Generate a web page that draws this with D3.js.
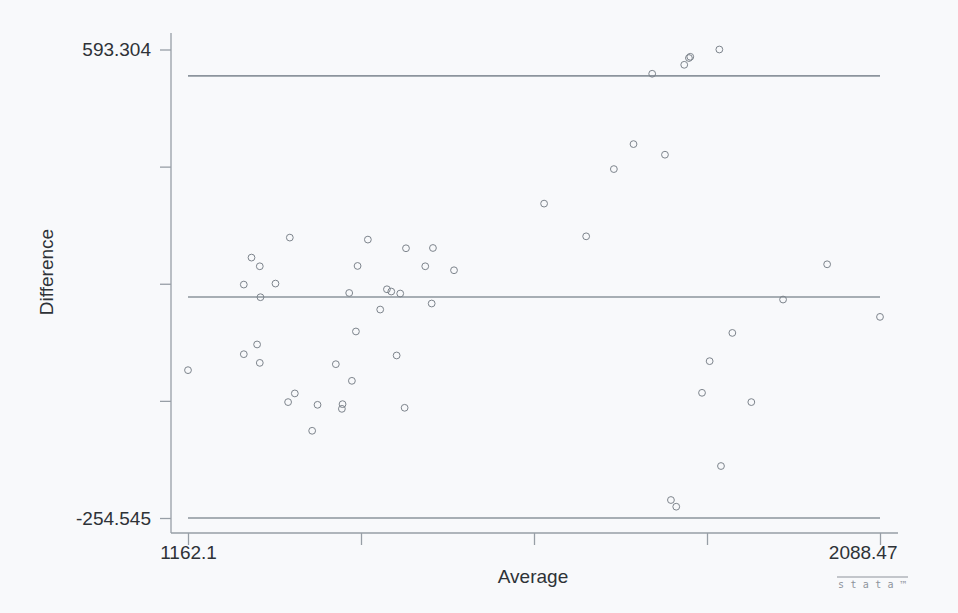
<!DOCTYPE html>
<html>
<head>
<meta charset="utf-8">
<script src="https://cdn.jsdelivr.net/npm/d3@7"></script>
<style>
  html, body { margin: 0; padding: 0; background: #f8f9fb; }
  svg { display: block; }
  text { font-family: "Liberation Sans", Arial, sans-serif; fill: #2e3237; }
</style>
</head>
<body>
<svg id="chart"></svg>
<script>
// Bland-Altman style plot: average of two methods vs their difference
const average = [
  1162.1, 1298.4, 1247.1, 1258.2, 1236.8, 1279.2, 1259.1, 1254.6, 1236.8, 1258.2,
  1305.1, 1296.1, 1335.5, 1369.0, 1368.1, 1328.3, 1360.0, 1381.5, 1386.9, 1377.9,
  1389.1, 1402.9, 1419.4, 1428.4, 1434.2, 1446.2, 1441.4, 1452.1, 1453.9, 1479.7,
  1490.0, 1488.3, 1518.2, 1638.8, 1695.1, 1732.2, 1758.5, 1800.6, 1783.5, 1826.4,
  1832.7, 1834.5, 1873.4, 2017.7, 1958.7, 2088.47, 1890.8, 1860.4, 1850.2, 1916.2,
  1875.6, 1808.6, 1815.7
];
const difference = [
  13.0, 252.9, 216.7, 201.0, 167.9, 169.7, 145.0, 59.5, 41.9, 26.2,
  -29.1, -44.8, -49.7, -48.5, -57.0, -96.7, 23.8, -6.3, 83.0, 152.7,
  201.6, 249.3, 122.7, 159.4, 155.3, 151.7, 39.6, -55.1, 233.6, 201.0,
  234.1, 133.6, 193.8, 314.4, 255.2, 376.9, 422.1, 402.9, 549.4, 565.6,
  577.9, 580.1, 593.304, 204.6, 140.8, 109.4, 80.4, 29.3, -28.0, -44.8,
  -160.5, -222.0, -234.1
];
// mean difference and limits of agreement
const refLines = [545.5, 145.5, -254.545];
const xLabels = ["1162.1", "2088.47"];
const yLabels = ["-254.545", "593.304"];
const xTitle = "Average";
const yTitle = "Difference";

const W = 958, H = 613;
const svg = d3.select("#chart").attr("width", W).attr("height", H);

const xMin = 1162.1, xMax = 2088.47;
const yMin = -254.545, yMax = 593.304;

const x = d3.scaleLinear().domain([xMin, xMax]).range([188, 880]);
const y = d3.scaleLinear().domain([yMin, yMax]).range([518, 49.5]);

const axisX = 171, axisY = 533;
const axisColor = "#979ea6";

// axis lines (plot region edges)
svg.append("line")
  .attr("x1", axisX).attr("x2", axisX).attr("y1", 33).attr("y2", axisY)
  .attr("stroke", axisColor).attr("stroke-width", 1.3);
svg.append("line")
  .attr("x1", axisX).attr("x2", 898).attr("y1", axisY).attr("y2", axisY)
  .attr("stroke", axisColor).attr("stroke-width", 1.3);

// five evenly spaced ticks, only the ends are labelled
const yTicks = d3.range(5).map(i => yMin + i * (yMax - yMin) / 4);
const xTicks = d3.range(5).map(i => xMin + i * (xMax - xMin) / 4);

const yAxis = d3.axisLeft(y).tickValues(yTicks).tickSize(11).tickPadding(9)
  .tickFormat((d, i) => i === 0 ? yLabels[0] : i === 4 ? yLabels[1] : "");
const gy = svg.append("g").attr("transform", `translate(${axisX},0)`).call(yAxis);
gy.select(".domain").remove();
gy.selectAll(".tick line").attr("stroke", axisColor).attr("stroke-width", 1.3);
gy.selectAll(".tick text").attr("font-size", 19).attr("fill", "#2e3237")
  .attr("font-family", "'Liberation Sans', Arial, sans-serif");

const xAxis = d3.axisBottom(x).tickValues(xTicks).tickSize(12).tickPadding(1)
  .tickFormat((d, i) => i === 0 ? xLabels[0] : i === 4 ? xLabels[1] : "");
const gx = svg.append("g").attr("transform", `translate(0,${axisY})`).call(xAxis);
gx.select(".domain").remove();
gx.selectAll(".tick line").attr("stroke", axisColor).attr("stroke-width", 1.3);
gx.selectAll(".tick text").attr("font-size", 19).attr("fill", "#2e3237")
  .attr("font-family", "'Liberation Sans', Arial, sans-serif");
// last label is pulled inside the graph edge
gx.selectAll(".tick text").filter((d, i) => i === 4)
  .attr("text-anchor", "end").attr("x", 17);

// mean and limits of agreement
svg.append("g").selectAll("line")
  .data(refLines)
  .join("line")
  .attr("x1", x(xMin)).attr("x2", x(xMax))
  .attr("y1", d => y(d)).attr("y2", d => y(d))
  .attr("stroke", "#8c949d").attr("stroke-width", 1.6);

// points
svg.append("g").selectAll("circle")
  .data(average.map((a, i) => [a, difference[i]]))
  .join("circle")
  .attr("cx", d => x(d[0]))
  .attr("cy", d => y(d[1]))
  .attr("r", 3.4)
  .attr("fill", "none")
  .attr("stroke", "#7d848c")
  .attr("stroke-width", 1);

// axis titles
svg.append("text")
  .attr("x", 533).attr("y", 583)
  .attr("text-anchor", "middle").attr("font-size", 19)
  .text(xTitle);
svg.append("text")
  .attr("transform", "translate(53,272) rotate(-90)")
  .attr("text-anchor", "middle").attr("font-size", 19)
  .text(yTitle);

// stata mark
svg.append("line")
  .attr("x1", 837).attr("x2", 908).attr("y1", 577).attr("y2", 577)
  .attr("stroke", "#8e949b").attr("stroke-width", 1.2);
svg.append("text")
  .attr("x", 838).attr("y", 588)
  .attr("font-size", 10)
  .attr("textLength", 68).attr("lengthAdjust", "spacing")
  .style("font-family", "'DejaVu Sans Mono', monospace")
  .style("fill", "#8e949b")
  .text("stata™");
</script>
</body>
</html>
